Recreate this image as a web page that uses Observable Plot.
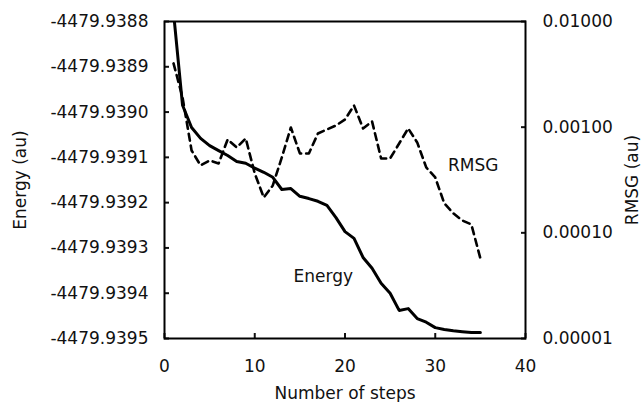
<!DOCTYPE html>
<html>
<head>
<meta charset="utf-8">
<script src="https://cdn.jsdelivr.net/npm/d3@7"></script>
<script src="https://cdn.jsdelivr.net/npm/@observablehq/plot@0.6"></script>
<style>
  html, body { margin: 0; padding: 0; background: #fff; }
  #chart { width: 642px; height: 402px; }
</style>
</head>
<body>
<div id="chart"></div>
<script>
const steps = [1,2,3,4,5,6,7,8,9,10,11,12,13,14,15,16,17,18,19,20,21,22,23,24,25,26,27,28,29,30,31,32,33,34,35];
const energy = [
  -4479.93878, -4479.938985, -4479.939034, -4479.939058, -4479.939074,
  -4479.939085, -4479.939096, -4479.939109, -4479.939113, -4479.939124,
  -4479.939133, -4479.939144, -4479.939171, -4479.939169, -4479.939186,
  -4479.939191, -4479.939197, -4479.939206, -4479.939233, -4479.939264,
  -4479.939279, -4479.939321, -4479.939345, -4479.939378, -4479.939400,
  -4479.939438, -4479.939434, -4479.939456, -4479.939464, -4479.939476,
  -4479.939480, -4479.939483, -4479.939485, -4479.939487, -4479.939487
];
const rmsg = [
  0.00401, 0.00191, 0.000602, 0.000434, 0.000484,
  0.000454, 0.000765, 0.000643, 0.000782, 0.000365,
  0.000216, 0.000281, 0.000517, 0.000993, 0.000564,
  0.000564, 0.000871, 0.000951, 0.001038, 0.001183,
  0.001604, 0.000973, 0.001132, 0.000506, 0.000506,
  0.000701, 0.000973, 0.000717, 0.000416, 0.000334,
  0.000190, 0.000153, 0.000131, 0.000120, 0.0000573
];
const xTicks = [0, 10, 20, 30, 40];
const energyTicks = [-4479.9395, -4479.9394, -4479.9393, -4479.9392, -4479.9391, -4479.9390, -4479.9389, -4479.9388];
const rmsgTicks = [0.00001, 0.0001, 0.001, 0.01];
const rmsgTickLabels = ["0.00001", "0.00010", "0.00100", "0.01000"];
const seriesLabels = ["Energy", "RMSG"];
const labelSteps = [17.6, 34.2];
const labelEnergy = -4479.939363;
const labelRmsg = 0.000434;

const eMin = energyTicks[0], eMax = energyTicks[energyTicks.length - 1];
const lMin = Math.log10(rmsgTicks[0]), lMax = Math.log10(rmsgTicks[rmsgTicks.length - 1]);
const toE = v => eMin + (Math.log10(v) - lMin) / (lMax - lMin) * (eMax - eMin);

const energyData = steps.map((s, i) => ({step: s, value: energy[i]}));
const rmsgData = steps.map((s, i) => ({step: s, value: toE(rmsg[i])}));
const rightTickPos = rmsgTicks.map(toE);
const rightLabelMap = new Map(rightTickPos.map((p, i) => [p, rmsgTickLabels[i]]));
const annotations = [
  {step: labelSteps[0], value: labelEnergy, text: seriesLabels[0]},
  {step: labelSteps[1], value: toE(labelRmsg), text: seriesLabels[1]}
];

const chart = Plot.plot({
  width: 642,
  height: 402,
  marginLeft: 164,
  marginRight: 117,
  marginTop: 21,
  marginBottom: 64,
  style: {fontFamily: "DejaVu Sans", fontSize: "17px", color: "#111", background: "#fff"},
  x: {domain: [0, 40]},
  y: {domain: [eMin, eMax]},
  marks: [
    Plot.axisX({ticks: xTicks, tickSize: -5, tickPadding: 26, tickFormat: d => String(d), label: null, strokeWidth: 2}),
    Plot.axisY({anchor: "left", ticks: energyTicks, tickSize: -5, tickPadding: 21, tickFormat: d => d.toFixed(4), label: null, strokeWidth: 2}),
    Plot.axisY(rightTickPos, {anchor: "right", tickSize: -5, tickPadding: 22, tickFormat: d => rightLabelMap.get(d), label: null, strokeWidth: 2}),
    Plot.frame({stroke: "#000", strokeWidth: 2}),
    Plot.line(rmsgData, {x: "step", y: "value", stroke: "#000", strokeWidth: 2.6, strokeDasharray: "7,5", clip: true}),
    Plot.line(energyData, {x: "step", y: "value", stroke: "#000", strokeWidth: 3, clip: true}),
    Plot.text(annotations, {x: "step", y: "value", text: "text", fill: "#111", fontSize: 17}),
    Plot.text(["Number of steps"], {frameAnchor: "bottom", dy: 60, text: d => d, fill: "#111", fontSize: 17}),
    Plot.text(["Energy (au)"], {frameAnchor: "left", textAnchor: "middle", dx: -144, rotate: -90, text: d => d, fill: "#111", fontSize: 17}),
    Plot.text(["RMSG (au)"], {frameAnchor: "right", textAnchor: "middle", dx: 107, rotate: -90, text: d => d, fill: "#111", fontSize: 17})
  ]
});
document.getElementById("chart").appendChild(chart);
</script>
</body>
</html>
